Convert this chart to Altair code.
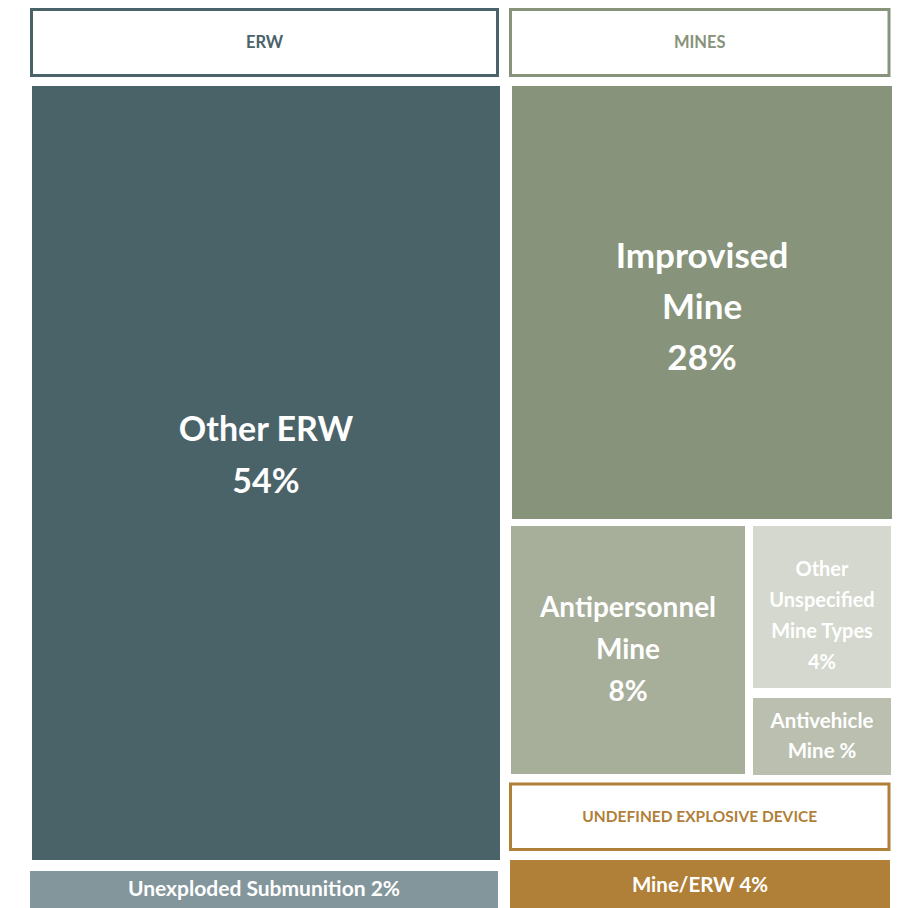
import altair as alt
import pandas as pd

# ---------------- data ----------------
cells = ["Other ERW", "Unexploded Submunition", "Improvised Mine", "Antipersonnel Mine",
         "Other Unspecified Mine Types", "Antivehicle Mine", "Mine/ERW"]
shares = [54, 2, 28, 8, 4, None, 4]          # percent (Antivehicle shows no number)
cell_groups = ["ERW", "ERW", "MINES", "MINES", "MINES", "MINES", "UNDEFINED EXPLOSIVE DEVICE"]
cell_lines = [["Other ERW", "{p}%"], ["Unexploded Submunition {p}%"], ["Improvised", "Mine", "{p}%"],
              ["Antipersonnel", "Mine", "{p}%"], ["Other", "Unspecified", "Mine Types", "{p}%"],
              ["Antivehicle", "Mine {p}%"], ["Mine/ERW {p}%"]]
cell_colors = ["#4a6369", "#83969c", "#87937a", "#a7ae9a", "#d5d8ce", "#bbbfb0", "#b07f38"]

headers = ["ERW", "MINES", "UNDEFINED EXPLOSIVE DEVICE"]
header_colors = ["#4a6369", "#87937a", "#b07f38"]

# ---------------- layout (treemap frame, in canvas units) ----------------
W, H = 897, 908
FONT = "Lato"

cell_box = {
    "Other ERW": (32, 500, 86, 860),
    "Unexploded Submunition": (30, 498, 871, 912),
    "Improvised Mine": (512, 892, 86, 519),
    "Antipersonnel Mine": (511, 745, 526, 774),
    "Other Unspecified Mine Types": (753, 891, 526, 688),
    "Antivehicle Mine": (753, 891, 698, 775),
    "Mine/ERW": (510, 890, 860, 912),
}
# font size, line height, vertical offset of the text block from the cell centre
cell_font = {
    "Other ERW": (34, 52, -16),
    "Unexploded Submunition": (21, 26, 0.5),
    "Improvised Mine": (35, 51, 5),
    "Antipersonnel Mine": (28, 42, 1),
    "Other Unspecified Mine Types": (20, 31, 9.5),
    "Antivehicle Mine": (20.5, 30, 0),
    "Mine/ERW": (20.5, 26, 2),
}
header_box = {
    "ERW": (31.5, 497.5, 9.5, 75.5),
    "MINES": (510.5, 889, 9.5, 75.5),
    "UNDEFINED EXPLOSIVE DEVICE": (510.5, 889, 784, 849.5),
}
header_size = [16.5, 16.5, 15.5]

rows = []
for c, v, g, lines, col in zip(cells, shares, cell_groups, cell_lines, cell_colors):
    x0, x1, y0, y1 = cell_box[c]
    p = "" if v is None else str(v)
    rows.append(dict(cell=c, group=g, share=v, color=col,
                     label="\n".join(l.format(p=p) for l in lines), nlines=len(lines),
                     x0=x0, x1=x1, y0=y0, y1=y1,
                     cx=(x0 + x1) / 2, cy=(y0 + min(y1, H)) / 2))
df = pd.DataFrame(rows)

hrows = []
for h, col in zip(headers, header_colors):
    x0, x1, y0, y1 = header_box[h]
    hrows.append(dict(header=h, color=col, x0=x0, x1=x1, y0=y0, y1=y1,
                      cx=(x0 + x1) / 2, cy=(y0 + y1) / 2))
hdf = pd.DataFrame(hrows)

xs = alt.Scale(domain=[0, W], range=[0, W], nice=False, zero=False)
ys = alt.Scale(domain=[0, H], range=[0, H], nice=False, zero=False)

rects = alt.Chart(df).mark_rect().encode(
    x=alt.X("x0:Q", scale=xs, axis=None), x2="x1:Q",
    y=alt.Y("y0:Q", scale=ys, axis=None), y2="y1:Q",
    color=alt.Color("color:N", scale=None),
    tooltip=["cell:N", "share:Q"],
)

hboxes = alt.Chart(hdf).mark_rect(fill="white", strokeWidth=3).encode(
    x=alt.X("x0:Q", scale=xs, axis=None), x2="x1:Q",
    y=alt.Y("y0:Q", scale=ys, axis=None), y2="y1:Q",
    stroke=alt.Stroke("color:N", scale=None),
)

layers = [hboxes, rects]
for h, fs in zip(headers, header_size):
    layers.append(
        alt.Chart(hdf[hdf.header == h]).mark_text(
            font=FONT, fontSize=fs, fontWeight="bold", baseline="middle").encode(
            x=alt.X("cx:Q", scale=xs, axis=None),
            y=alt.Y("cy:Q", scale=ys, axis=None),
            text="header:N",
            color=alt.Color("color:N", scale=None),
        )
    )

for c in cells:
    fs, lh, off = cell_font[c]
    n = int(df.loc[df.cell == c, "nlines"].iloc[0])
    layers.append(
        alt.Chart(df[df.cell == c]).mark_text(
            font=FONT, fontSize=fs, lineHeight=lh, fontWeight="bold",
            color="white", baseline="middle", lineBreak="\n",
            dy=-(n - 1) * lh / 2 + off,
        ).encode(
            x=alt.X("cx:Q", scale=xs, axis=None),
            y=alt.Y("cy:Q", scale=ys, axis=None),
            text="label:N",
        )
    )

chart = alt.layer(*layers).properties(
    width=W, height=H, padding=0, autosize=alt.AutoSizeParams(type="none"),
    background="white",
).configure_view(stroke=None)

chart.save("out.html", embed_options={"renderer": "svg", "actions": False})
